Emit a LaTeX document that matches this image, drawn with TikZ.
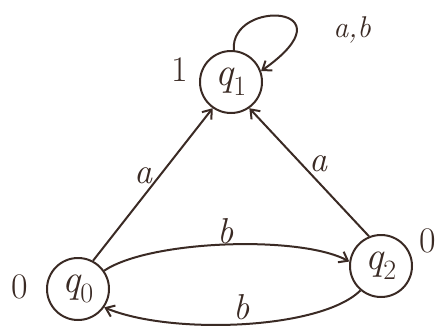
\documentclass[tikz,border=0pt]{standalone}
\usetikzlibrary{arrows.meta}
\definecolor{ink}{HTML}{3A2A24}
\begin{document}
\begin{tikzpicture}[x=1pt,y=-1pt,
  state/.style={circle,draw=ink,line width=2pt,minimum size=62pt,inner sep=0pt,text=ink,font=\fontsize{40}{44}\selectfont\itshape},
  trans/.style={draw=ink,line width=2pt,-{Straight Barb[length=8pt,width=12pt]}},
  lbl/.style={text=ink,font=\fontsize{36}{40}\selectfont\itshape}]
\useasboundingbox (0,0) rectangle (440,330);
\node[state] (q1) at (231,82) {q\textsubscript{\upshape 1}};
\node[state] (q0) at (78,289) {q\textsubscript{\upshape 0}};
\node[state] (q2) at (381,266) {q\textsubscript{\upshape 2}};
\node[lbl] (o1) at (180,70) {\upshape 1};
\node[lbl] (o0) at (20,287) {\upshape 0};
\node[lbl] (o2) at (428,241) {\upshape 0};
\draw[trans] (q1.85) .. controls (230,-2) and (355,5) .. (q1.20);
\node[lbl,font=\fontsize{30}{34}\selectfont\itshape] (lab) at (352,30) {a,b};
\draw[trans] (q0.62) -- (q1.235) node[lbl,pos=0.5,above left=-4pt] {a};
\draw[trans] (q2.112) -- (q1.-55) node[lbl,pos=0.5,above right=-4pt] {a};
\draw[trans] (q0.35) .. controls (150,240) and (300,235) .. (q2.172) node[lbl,pos=0.5,above=-4pt] {b};
\draw[trans] (q2.230) .. controls (320,330) and (170,335) .. (q0.-35) node[lbl,pos=0.5,above=0pt] {b};
\end{tikzpicture}
\end{document}
